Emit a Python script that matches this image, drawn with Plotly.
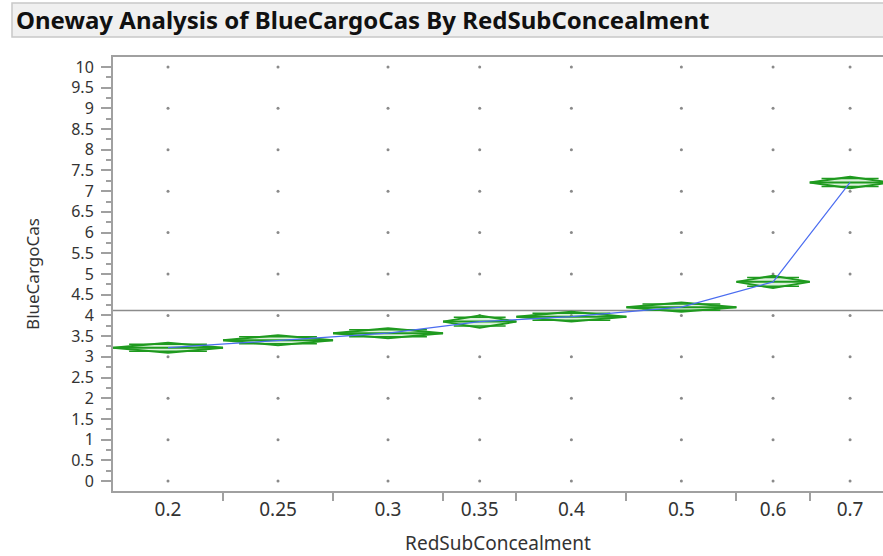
import numpy as np
import plotly.graph_objects as go

# ---- data ----
groups = ["0.2", "0.25", "0.3", "0.35", "0.4", "0.5", "0.6", "0.7"]
group_counts = [30, 30, 30, 20, 30, 30, 20, 22]
group_means = [3.22, 3.40, 3.57, 3.85, 3.97, 4.20, 4.81, 7.21]
ci_half = [0.12, 0.12, 0.12, 0.15, 0.12, 0.11, 0.15, 0.14]
grand_mean = 4.12
observed_levels = [0, 1, 2, 3, 4, 5, 6, 7, 8, 9, 10]
y_ticks = [i * 0.5 for i in range(21)]

# ---- layout of categorical groups (width proportional to count) ----
counts = np.array(group_counts, dtype=float)
bounds = np.concatenate([[0], np.cumsum(counts)])
centers = (bounds[:-1] + bounds[1:]) / 2

GREEN = "#1f9a1f"
BLUE = "#4a6cf0"
GRAY = "#a0a0a0"
FONT = "Noto Sans"
TXT = "#333333"

fig = go.Figure()

# data points
px_, py_ = [], []
for c in centers:
    for v in observed_levels:
        px_.append(c)
        py_.append(v)
fig.add_trace(go.Scatter(x=px_, y=py_, mode="markers",
                         marker=dict(size=3, color="#8a8a8a"),
                         hoverinfo="skip", showlegend=False))

# grand mean
fig.add_trace(go.Scatter(x=[bounds[0], bounds[-1] + 20], y=[grand_mean, grand_mean],
                         mode="lines", line=dict(color="#8c8c8c", width=1.5),
                         hoverinfo="skip", showlegend=False))

# means diamonds
for i in range(len(groups)):
    l, r, c = bounds[i], bounds[i + 1], centers[i]
    m, h = group_means[i], ci_half[i]
    fig.add_trace(go.Scatter(x=[l, c, r, c, l], y=[m, m + h, m, m - h, m],
                             mode="lines", line=dict(color=GREEN, width=2),
                             fill="toself", fillcolor="rgba(120,200,120,0.25)",
                             hoverinfo="skip", showlegend=False))
    fig.add_trace(go.Scatter(x=[l, r], y=[m, m], mode="lines",
                             line=dict(color=GREEN, width=2),
                             hoverinfo="skip", showlegend=False))
    ov = h / np.sqrt(2)
    w = (r - l) / 2 * (1 - 1 / np.sqrt(2))
    for s in (1, -1):
        fig.add_trace(go.Scatter(x=[l + w, r - w], y=[m + s * ov, m + s * ov],
                                 mode="lines", line=dict(color=GREEN, width=1.5),
                                 hoverinfo="skip", showlegend=False))

# connect means
fig.add_trace(go.Scatter(x=centers, y=group_means, mode="lines",
                         line=dict(color=BLUE, width=1.2),
                         hoverinfo="skip", showlegend=False))

# invisible trace on x2 for separator ticks
fig.add_trace(go.Scatter(x=[bounds[0]], y=[0], xaxis="x2", mode="markers",
                         marker=dict(opacity=0), hoverinfo="skip", showlegend=False))

W, H = 883, 556
L, R, T, B = 113, 0, 57, 65
xmax = bounds[0] + (W - L) / 3.667

fig.update_layout(
    width=W, height=H,
    margin=dict(l=L, r=R, t=T, b=B, autoexpand=False),
    paper_bgcolor="white", plot_bgcolor="white",
    font=dict(family=FONT, size=19, color=TXT),
    xaxis=dict(range=[bounds[0], xmax], tickmode="array", tickvals=centers,
               ticktext=groups, ticks="", showline=True, linecolor=GRAY,
               linewidth=2, mirror=True, showgrid=False, zeroline=False,
               automargin=False,
               tickfont=dict(size=19, family=FONT, color=TXT),
               title=dict(text="RedSubConcealment", font=dict(size=19, family=FONT, color=TXT),
                          standoff=16)),
    xaxis2=dict(range=[bounds[0], xmax], overlaying="x", side="bottom",
                tickmode="array", tickvals=bounds[1:-1], ticks="outside",
                ticklen=9, tickcolor=GRAY, tickwidth=1.5, showticklabels=False,
                showgrid=False, zeroline=False, showline=False, automargin=False),
    yaxis=dict(range=[-0.24, 10.24], tickmode="array", tickvals=y_ticks,
               ticktext=[f"{v:g}" for v in y_ticks], ticks="outside", ticklen=10,
               tickcolor=GRAY, tickwidth=1.5, showline=True, linecolor=GRAY, linewidth=2,
               showgrid=False, zeroline=False, automargin=False,
               ticklabelstandoff=4,
               minor=dict(dtick=0.25, tick0=0, ticks="outside", ticklen=5,
                          tickcolor=GRAY, tickwidth=1.5),
               tickfont=dict(size=16, family=FONT, color=TXT),
               title=dict(text="BlueCargoCas", font=dict(size=17, family=FONT, color=TXT),
                          standoff=27)),
)

ph = H - T - B
pw = W - L - R
def py(pix):
    return (H - B - pix) / ph
def pxp(pix):
    return (pix - L) / pw

fig.add_shape(type="rect", xref="paper", yref="paper",
              x0=pxp(12), x1=pxp(884), y0=py(37), y1=py(3),
              fillcolor="#f0f0f0", line=dict(color="#c8c8c8", width=1.5), layer="below")
fig.add_annotation(xref="paper", yref="paper", x=pxp(14), y=py(20),
                   xanchor="left", yanchor="middle", showarrow=False,
                   text="<b>Oneway Analysis of BlueCargoCas By RedSubConcealment</b>",
                   font=dict(size=24, family=FONT, color="#111"))

fig.write_html("out.html", config={"displayModeBar": False},
               post_script="document.body.style.margin='0';document.body.style.overflow='hidden';")
